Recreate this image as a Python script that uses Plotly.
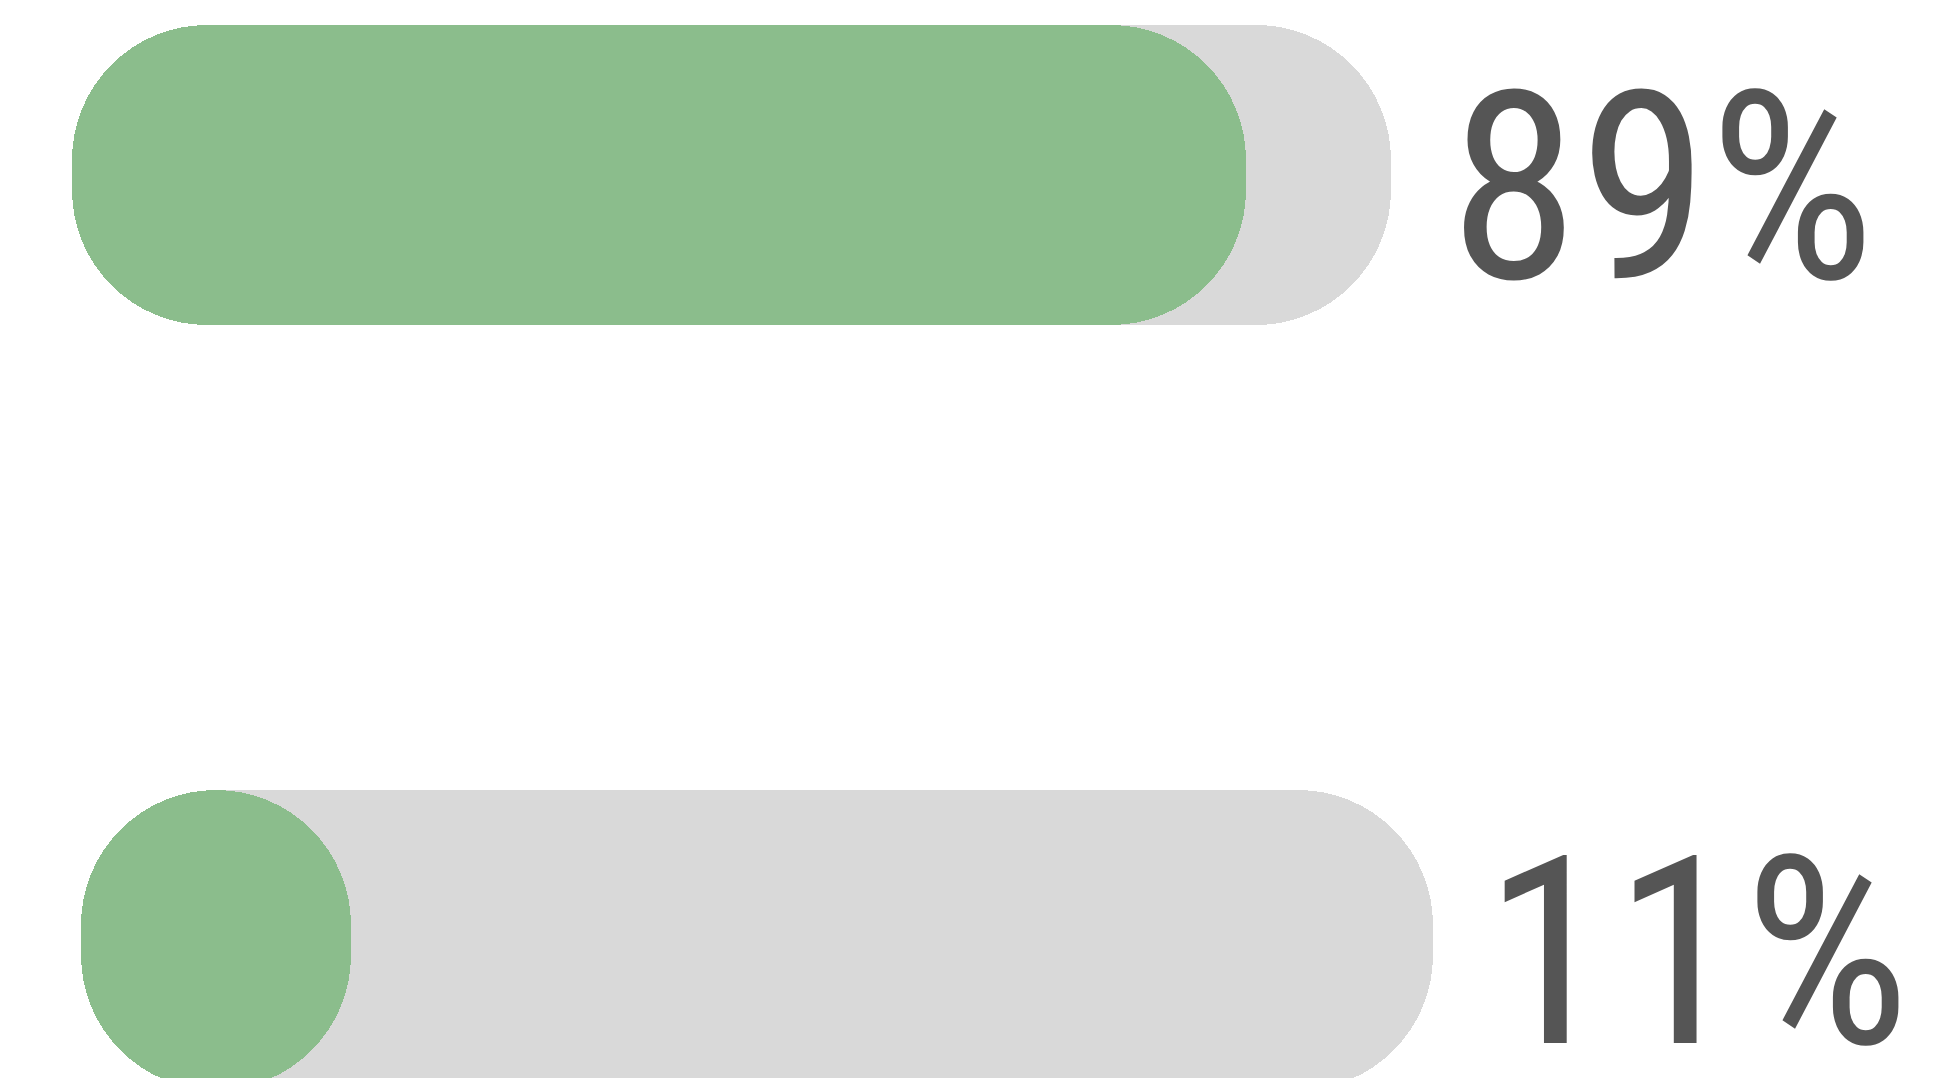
import plotly.graph_objects as go

# ---- data ----
categories = ["Row 1", "Row 2"]
values = [89, 11]
totals = [100, 100]
labels = ["89%", "11%"]

# ---- style / layout constants ----
W, H = 1944, 1078
GREEN = "#8BBD8C"
GRAY = "#D9D9D9"
TEXT = "#555555"
BAR_PX = 300          # bar thickness in px
R_PX = 135            # corner radius in px
FONT = "Liberation Sans Narrow, Arial Narrow, Roboto Condensed, DejaVu Sans Condensed, sans-serif"
FONT_SIZE = 263
OFF = 8               # page body margin compensation

# pixel frames of each row's plot area (left, right, top, bottom), bar centre, label shift
frames = [
    dict(left=72, right=1391, top=OFF, bottom=540, center=175, xshift=56),
    dict(left=81, right=1433, top=540, bottom=H + OFF, center=940, xshift=49),
]

fig = go.Figure()
annotations = []
for i, (cat, v, t, lab) in enumerate(zip(categories, values, totals, labels)):
    f = frames[i]
    left, right = f["left"] - OFF, f["right"] - OFF
    top, bottom, center = f["top"] - OFF, f["bottom"] - OFF, f["center"] - OFF
    sfx = "" if i == 0 else str(i + 1)
    px_per_unit = (right - left) / t
    # rounded bars are drawn at least as long as two corner radii
    disp = max(v, 2 * R_PX / px_per_unit)
    fig.add_trace(go.Bar(
        y=[0], x=[t], base=[0], orientation="h", width=1,
        marker=dict(color=GRAY, cornerradius=R_PX, line=dict(width=0)),
        xaxis="x" + sfx, yaxis="y" + sfx, hoverinfo="skip", name=cat + " total",
    ))
    fig.add_trace(go.Bar(
        y=[0], x=[disp], base=[0], orientation="h", width=1,
        marker=dict(color=GREEN, cornerradius=R_PX, line=dict(width=0)),
        xaxis="x" + sfx, yaxis="y" + sfx, name=cat, customdata=[v],
        hovertemplate="%{customdata}%<extra></extra>",
    ))
    y_max = (center - top) / BAR_PX
    y_min = y_max - (bottom - top) / BAR_PX
    common = dict(showgrid=False, zeroline=False, showticklabels=False, showline=False, ticks="", fixedrange=True)
    fig.update_layout(**{
        "xaxis" + sfx: dict(domain=[left / W, right / W], range=[0, t],
                            anchor="y" + sfx, **common),
        "yaxis" + sfx: dict(domain=[max(0, 1 - bottom / H), 1 - top / H], range=[y_min, y_max],
                            anchor="x" + sfx, **common),
    })
    annotations.append(dict(
        text=lab, x=t, y=0, xref="x" + sfx, yref="y" + sfx,
        xanchor="left", yanchor="middle", showarrow=False,
        xshift=f["xshift"], yshift=-13,
        font=dict(family=FONT, size=FONT_SIZE, color=TEXT),
    ))

fig.update_layout(
    width=W, height=H, autosize=False,
    margin=dict(l=0, r=0, t=0, b=0),
    paper_bgcolor="white", plot_bgcolor="rgba(0,0,0,0)",
    barmode="overlay", bargap=0, showlegend=False,
    annotations=annotations,
)

fig.write_html("out.html", config={"displayModeBar": False})
